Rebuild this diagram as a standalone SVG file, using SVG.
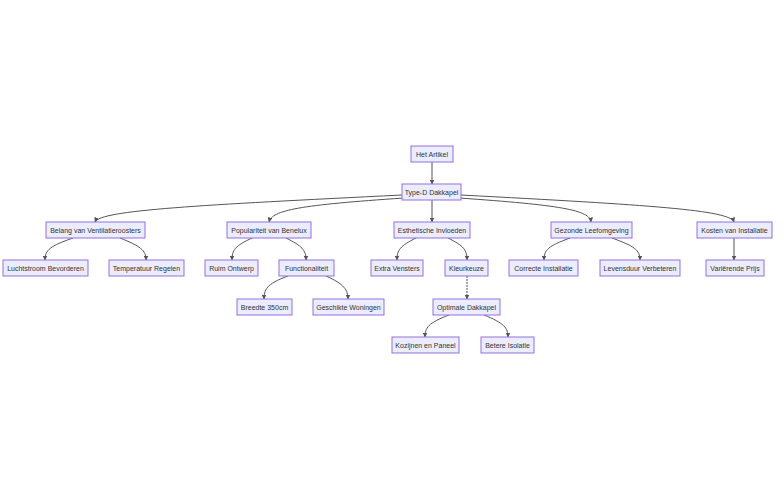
<svg xmlns="http://www.w3.org/2000/svg" width="784" height="500" viewBox="0 0 784 500">
<style>
.n rect{fill:#ECECFF;stroke:#9370DB;stroke-width:1}
.n text{font-family:"Liberation Sans",Arial,sans-serif;font-size:7px;fill:#333;text-anchor:middle;dominant-baseline:central}
.e path{fill:none;stroke:#555;stroke-width:1;marker-end:url(#a)}
</style>
<defs><marker id="a" viewBox="0 0 10 10" refX="9" refY="5" markerWidth="5" markerHeight="5" orient="auto"><path d="M0,0L10,5L0,10z" fill="#555"/></marker></defs>
<rect width="784" height="500" fill="#fff"/>
<g id="edges" class="e">
<path d="M432,162V184"/>
<path d="M402,195C200,205 100,210 95,222"/>
<path d="M404,198C300,205 272,210 269,222"/>
<path d="M432,200V222"/>
<path d="M459,198C560,205 590,210 591,222"/>
<path d="M461,195C650,205 730,210 734,222"/>
<path d="M73,238C50,246 45,250 45,260"/>
<path d="M120,238C140,246 146,250 146,260"/>
<path d="M252,238C235,246 232,250 232,260"/>
<path d="M286,238C302,246 306,250 306,260"/>
<path d="M416,238C400,246 397,250 397,260"/>
<path d="M448,238C464,246 467,250 467,260"/>
<path d="M570,238C548,246 544,250 544,260"/>
<path d="M612,238C634,246 640,250 640,260"/>
<path d="M734,238V260"/>
<path d="M288,276C266,284 264,290 264,299"/>
<path d="M326,276C344,284 348,290 348,299"/>
<path d="M467,276V299" stroke-dasharray="2 1"/>
<path d="M449,315C428,323 425,328 425,337"/>
<path d="M484,315C504,323 508,328 508,337"/>
</g>
<g id="n1" class="n"><rect x="411" y="146" width="42" height="16"/><text x="432" y="154">Het Artikel</text></g>
<g id="n2" class="n"><rect x="402" y="184" width="59" height="16"/><text x="431.5" y="192">Type-D Dakkapel</text></g>
<g id="n3" class="n"><rect x="46" y="222" width="99" height="16"/><text x="95.5" y="230">Belang van Ventilatieroosters</text></g>
<g id="n4" class="n"><rect x="227" y="222" width="84" height="16"/><text x="269" y="230">Populariteit van Benelux</text></g>
<g id="n5" class="n"><rect x="394" y="222" width="76" height="16"/><text x="432" y="230">Esthetische Invloeden</text></g>
<g id="n6" class="n"><rect x="551" y="222" width="81" height="16"/><text x="591.5" y="230">Gezonde Leefomgeving</text></g>
<g id="n7" class="n"><rect x="697" y="222" width="75" height="16"/><text x="734.5" y="230">Kosten van Installatie</text></g>
<g id="n8" class="n"><rect x="3" y="260" width="85" height="16"/><text x="45.5" y="268">Luchtstroom Bevorderen</text></g>
<g id="n9" class="n"><rect x="109" y="260" width="75" height="16"/><text x="146.5" y="268">Temperatuur Regelen</text></g>
<g id="n10" class="n"><rect x="205" y="260" width="53" height="16"/><text x="231.5" y="268">Ruim Ontwerp</text></g>
<g id="n11" class="n"><rect x="279" y="260" width="55" height="16"/><text x="306.5" y="268">Functionaliteit</text></g>
<g id="n12" class="n"><rect x="371" y="260" width="52" height="16"/><text x="397" y="268">Extra Vensters</text></g>
<g id="n13" class="n"><rect x="445" y="260" width="43" height="16"/><text x="466.5" y="268">Kleurkeuze</text></g>
<g id="n14" class="n"><rect x="509" y="260" width="69" height="16"/><text x="543.5" y="268">Correcte Installatie</text></g>
<g id="n15" class="n"><rect x="600" y="260" width="80" height="16"/><text x="640" y="268">Levensduur Verbeteren</text></g>
<g id="n16" class="n"><rect x="706" y="260" width="58" height="16"/><text x="735" y="268">Variërende Prijs</text></g>
<g id="n17" class="n"><rect x="237" y="299" width="55" height="16"/><text x="264.5" y="307">Breedte 350cm</text></g>
<g id="n18" class="n"><rect x="313" y="299" width="71" height="16"/><text x="348.5" y="307">Geschikte Woningen</text></g>
<g id="n19" class="n"><rect x="433" y="299" width="67" height="16"/><text x="466.5" y="307">Optimale Dakkapel</text></g>
<g id="n20" class="n"><rect x="392" y="337" width="67" height="16"/><text x="425.5" y="345">Kozijnen en Paneel</text></g>
<g id="n21" class="n"><rect x="481" y="337" width="53" height="16"/><text x="507.5" y="345">Betere Isolatie</text></g>
</svg>
